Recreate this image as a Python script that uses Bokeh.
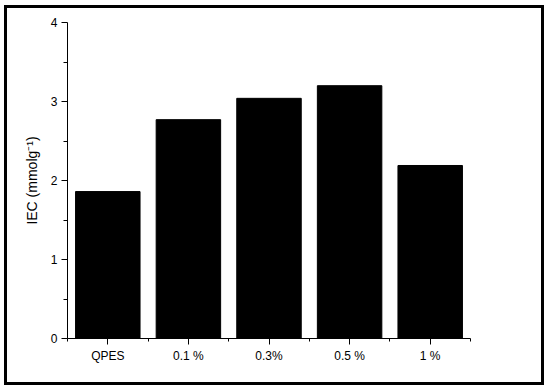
from bokeh.plotting import figure
from bokeh.models import Range1d, FixedTicker
from bokeh.embed import file_html
from bokeh.resources import INLINE

categories = ["QPES", "0.1 %", "0.3%", "0.5 %", "1 %"]
iec_values = [1.86, 2.77, 3.04, 3.20, 2.19]
y_ticks = [0, 1, 2, 3, 4]

xs = list(range(len(categories)))

p = figure(width=534, height=374, output_backend="svg", toolbar_location=None,
           x_range=Range1d(-0.5, len(categories) - 0.5), y_range=Range1d(0, 4),
           min_border_left=60, min_border_right=71, min_border_top=14, min_border_bottom=44)
p.styles = {"outline": "3px solid black", "outline-offset": "0px",
            "margin-left": "7px", "margin-top": "8px"}
p.outline_line_color = None
p.grid.visible = False
p.background_fill_color = "white"
p.border_fill_color = "white"

p.vbar(x=xs, top=iec_values, width=0.8, bottom=0, fill_color="black", line_color="black")

p.xaxis.ticker = FixedTicker(ticks=xs, minor_ticks=[x - 0.5 for x in xs] + [len(xs) - 0.5])
p.xaxis.major_label_overrides = {i: c for i, c in enumerate(categories)}
p.yaxis.ticker = FixedTicker(ticks=y_ticks, minor_ticks=[t + 0.5 for t in y_ticks[:-1]])
p.yaxis.axis_label = "IEC (mmolg\u207b\u00b9)"

for ax in (p.xaxis[0], p.yaxis[0]):
    ax.axis_line_color = "black"
    ax.major_tick_line_color = "black"
    ax.minor_tick_line_color = "black"
    ax.major_tick_in = 0
    ax.major_tick_out = 6
    ax.minor_tick_in = 0
    ax.minor_tick_out = 4
    ax.major_label_text_font = "Liberation Sans"
    ax.major_label_text_font_size = "12px"
    ax.major_label_text_color = "black"
    ax.major_label_standoff = 4
    ax.axis_label_text_font = "Liberation Sans"
    ax.axis_label_text_font_size = "14px"
    ax.axis_label_text_font_style = "normal"
    ax.axis_label_text_color = "black"
p.xaxis.minor_tick_out = 3
p.yaxis.axis_label_standoff = 8

open("out.html", "w").write(file_html(p, INLINE))
